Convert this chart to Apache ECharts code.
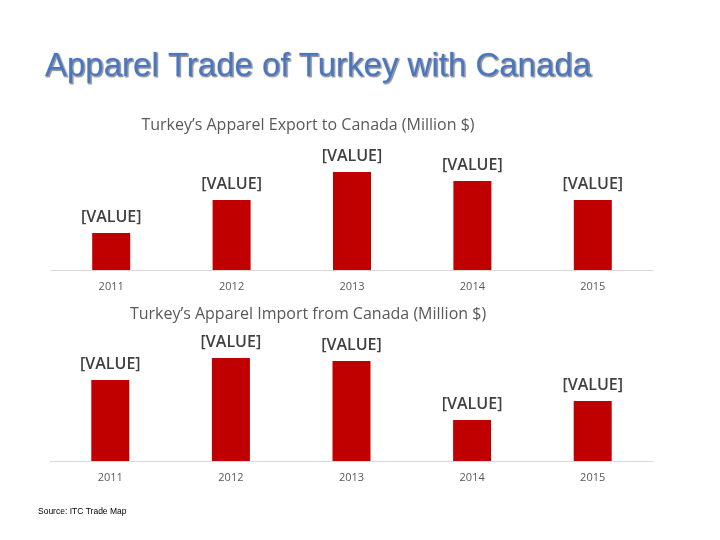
<!DOCTYPE html>
<html>
<head>
<meta charset="utf-8">
<script src="https://cdn.jsdelivr.net/npm/echarts@6/dist/echarts.min.js"></script>
<style>
  html, body { margin: 0; padding: 0; background: #fff; }
  #main { width: 720px; height: 540px; }
</style>
</head>
<body>
<div id="main"></div>
<script>
var years = ['2011', '2012', '2013', '2014', '2015'];
// estimated bar heights (values not shown in the picture, labels read "[VALUE]")
var exportValues = [37, 70, 98, 89, 70];
var importValues = [81, 103, 100, 41, 60];

var chart = echarts.init(document.getElementById('main'));

var labelStyle = {
    show: true,
    position: 'top',
    distance: 8,
    formatter: '[VALUE]',
    color: '#404040',
    fontFamily: 'Open Sans',
    fontWeight: 600,
    fontSize: 16
};

var axisLabelStyle = {
    color: '#595959',
    fontFamily: 'Open Sans',
    fontSize: 11,
    margin: 11
};

var option = {
    backgroundColor: '#fff',
    animation: false,
    title: [
        {
            text: 'Apparel Trade of Turkey with Canada',
            left: 40,
            top: 45,
            textStyle: {
                color: '#4a76c0',
                fontFamily: 'Liberation Sans',
                fontSize: 33,
                fontWeight: 'normal',
                textBorderColor: '#dfe6f2',
                textBorderWidth: 1,
                textShadowColor: 'rgba(0,0,0,0.35)',
                textShadowOffsetX: 1,
                textShadowOffsetY: 1,
                textShadowBlur: 1
            }
        },
        {
            text: 'Turkey’s Apparel Export to Canada (Million $)',
            left: 303,
            textAlign: 'center',
            top: 112,
            textStyle: { color: '#595959', fontFamily: 'Open Sans', fontSize: 16, fontWeight: 'normal' }
        },
        {
            text: 'Turkey’s Apparel Import from Canada (Million $)',
            left: 303,
            textAlign: 'center',
            top: 301,
            textStyle: { color: '#595959', fontFamily: 'Open Sans', fontSize: 16, fontWeight: 'normal' }
        },
        {
            text: 'Source: ITC Trade Map',
            left: 33,
            top: 502,
            textStyle: { color: '#000', fontFamily: 'Liberation Sans', fontSize: 8.5, fontWeight: 'normal' }
        }
    ],
    grid: [
        { left: 51, right: 67, top: 150, height: 120 },
        { left: 50, right: 67, top: 341, height: 120 }
    ],
    xAxis: [
        {
            gridIndex: 0,
            type: 'category',
            data: years,
            axisLine: { lineStyle: { color: '#d9d9d9' } },
            axisTick: { show: false },
            axisLabel: axisLabelStyle
        },
        {
            gridIndex: 1,
            type: 'category',
            data: years,
            axisLine: { lineStyle: { color: '#d9d9d9' } },
            axisTick: { show: false },
            axisLabel: axisLabelStyle
        }
    ],
    yAxis: [
        { gridIndex: 0, type: 'value', min: 0, max: 120, show: false },
        { gridIndex: 1, type: 'value', min: 0, max: 120, show: false }
    ],
    series: [
        {
            name: 'Export',
            type: 'bar',
            xAxisIndex: 0,
            yAxisIndex: 0,
            barWidth: 38,
            itemStyle: { color: '#c00000' },
            label: labelStyle,
            data: exportValues
        },
        {
            name: 'Import',
            type: 'bar',
            xAxisIndex: 1,
            yAxisIndex: 1,
            barWidth: 38,
            itemStyle: { color: '#c00000' },
            label: labelStyle,
            data: importValues
        }
    ]
};

chart.setOption(option);
</script>
</body>
</html>
